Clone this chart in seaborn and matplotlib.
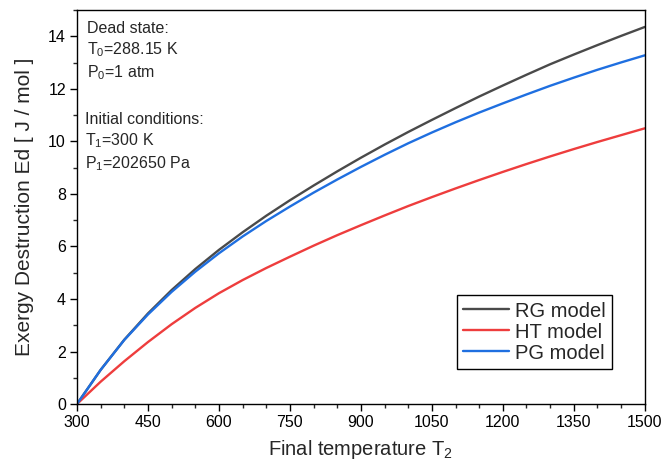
import numpy as np
import pandas as pd
import matplotlib
matplotlib.use("Agg")
import matplotlib.pyplot as plt
import seaborn as sns
from matplotlib.ticker import MultipleLocator

T2 = [300, 350, 400, 450, 500, 550, 600, 650, 700, 750, 800, 850, 900, 950,
      1000, 1050, 1100, 1150, 1200, 1250, 1300, 1350, 1400, 1450, 1500]
rg = [0, 1.30, 2.45, 3.45, 4.34, 5.14, 5.87, 6.54, 7.17, 7.76, 8.32, 8.86, 9.38,
      9.88, 10.36, 10.82, 11.27, 11.71, 12.13, 12.54, 12.94, 13.31, 13.67, 14.02, 14.36]
ht = [0, 0.85, 1.63, 2.36, 3.04, 3.66, 4.22, 4.72, 5.18, 5.61, 6.03, 6.43, 6.81,
      7.18, 7.54, 7.88, 8.21, 8.53, 8.84, 9.14, 9.43, 9.71, 9.98, 10.24, 10.50]
pg = [0, 1.30, 2.44, 3.41, 4.27, 5.04, 5.74, 6.38, 6.97, 7.52, 8.05, 8.55, 9.03,
      9.49, 9.93, 10.34, 10.73, 11.10, 11.45, 11.79, 12.12, 12.43, 12.73, 13.01, 13.28]
models = ["RG model", "HT model", "PG model"]
colors = ["#4a4a4a", "#ee3d3d", "#1f6fe0"]

df = pd.DataFrame({
    "T2": T2 * 3,
    "Ed": rg + ht + pg,
    "model": sum([[m] * len(T2) for m in models], []),
})

sns.set_theme(style="ticks")
plt.rcParams["font.family"] = ["Liberation Sans", "DejaVu Sans"]
plt.rcParams["mathtext.fontset"] = "custom"
plt.rcParams["mathtext.rm"] = "Liberation Sans"
plt.rcParams["mathtext.it"] = "Liberation Sans"
plt.rcParams["mathtext.default"] = "regular"

fig = plt.figure(figsize=(6.62, 4.62), dpi=100)
ax = fig.add_axes([0.1163, 0.1255, 0.8577, 0.8525])

sns.lineplot(data=df, x="T2", y="Ed", hue="model", hue_order=models,
             palette=colors, linewidth=1.7, ax=ax)

ax.set_xlim(300, 1500)
ax.set_ylim(0, 15)
ax.xaxis.set_major_locator(MultipleLocator(150))
ax.xaxis.set_minor_locator(MultipleLocator(50))
ax.yaxis.set_major_locator(MultipleLocator(2))
ax.yaxis.set_minor_locator(MultipleLocator(1))
ax.tick_params(which="major", direction="out", length=5, width=1, labelsize=11.5, colors="black", pad=3)
ax.tick_params(which="minor", direction="out", length=3, width=1)
for s in ax.spines.values():
    s.set_visible(True)
    s.set_color("black")
    s.set_linewidth(1)

ax.set_xlabel("Final temperature T$_2$", fontsize=14.5, labelpad=6)
ax.set_ylabel("Exergy Destruction Ed [ J / mol ]", fontsize=15, labelpad=10)

txt_kw = dict(transform=ax.transAxes, fontsize=11.5, va="top", ha="left")
ax.text(0.018, 0.972, "Dead state:\nT$_0$=288.15 K\nP$_0$=1 atm", linespacing=1.3, **txt_kw)
ax.text(0.014, 0.742, "Initial conditions:\nT$_1$=300 K\nP$_1$=202650 Pa", linespacing=1.3, **txt_kw)

leg = ax.legend(loc="lower right", bbox_to_anchor=(0.942, 0.09), fontsize=14.5,
                frameon=True, fancybox=False, edgecolor="black", framealpha=1,
                handlelength=2.3, handletextpad=0.3, labelspacing=0.1,
                borderpad=0.3, borderaxespad=0)
leg.get_frame().set_linewidth(1)
leg.set_title(None)

fig.savefig("out.png", dpi=100)
